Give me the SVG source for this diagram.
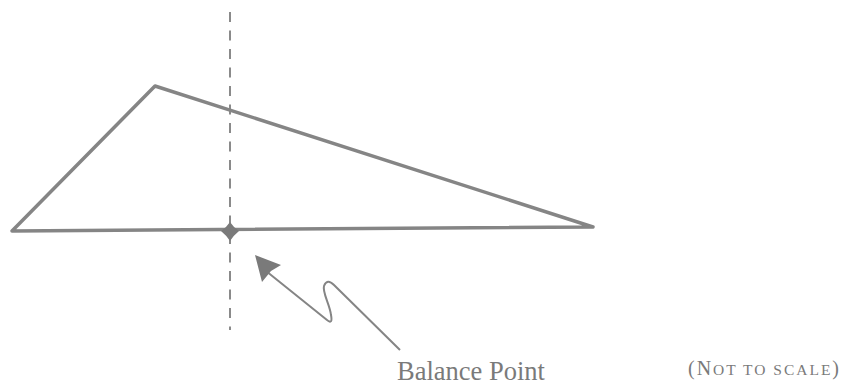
<svg xmlns="http://www.w3.org/2000/svg" width="841" height="387" viewBox="0 0 841 387">
<defs>
<style>
.shape{fill:none;stroke:#858585;stroke-width:3.5;stroke-linejoin:round;stroke-linecap:round}
.axis{fill:none;stroke:#8a8a8a;stroke-width:2;stroke-dasharray:10 8.5}
.conn{fill:none;stroke:#858585;stroke-width:2;stroke-linejoin:round}
.lbl{font-family:"Liberation Serif",serif;fill:#7a7a7a}
</style>
</defs>
<rect width="841" height="387" fill="#fff"/>
<g id="axis">
<line class="axis" x1="230" y1="12" x2="230" y2="330"/>
</g>
<g id="triangle">
<polygon class="shape" points="12,231 155,86 593,227"/>
</g>
<g id="balance-point">
<path d="M230,222 Q234,228 239,231 Q234,235 230,241 Q226,235 221,231 Q226,228 230,222 z" fill="#7a7a7a"/>
</g>
<g id="connectors">
<path class="conn" d="M266,271 L327,320 Q333,325 331,315 C330,305 322,292 324,286 Q327,278 334,285 L400,350"/>
<path d="M255,255 L281,265 L271,271 L262,282 z" fill="#7a7a7a"/>
</g>
<g id="labels">
<text class="lbl" x="397" y="380" font-size="26.5">Balance Point</text>
<text class="lbl" x="688" y="375" font-size="20" textLength="151" lengthAdjust="spacing">(N<tspan font-size="15.5">OT TO SCALE</tspan>)</text>
</g>
</svg>
